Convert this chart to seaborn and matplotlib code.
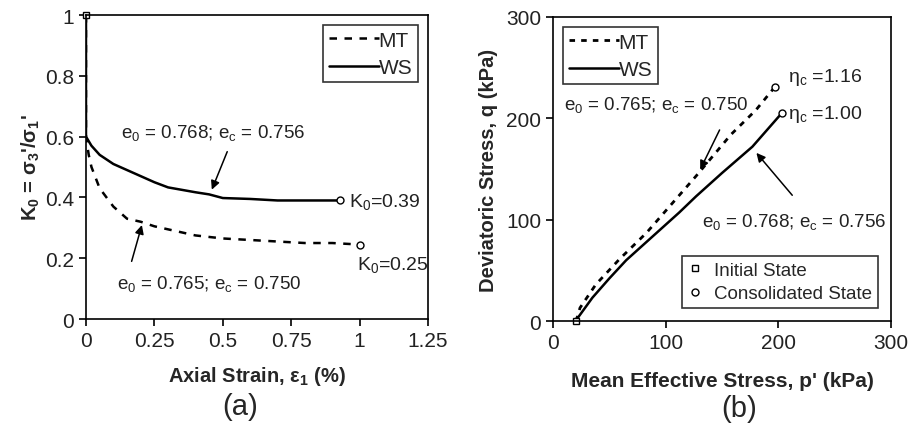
import matplotlib
matplotlib.use("Agg")
import matplotlib.pyplot as plt
import seaborn as sns

# panel (a): K0 vs axial strain
ws_strain = [0.0, 0.0, 0.0, 0.01, 0.02, 0.05, 0.1, 0.15, 0.2, 0.25, 0.3, 0.35, 0.4, 0.45, 0.5, 0.6, 0.7, 0.8, 0.93]
ws_k0 = [1.0, 0.8, 0.60, 0.585, 0.57, 0.54, 0.51, 0.49, 0.47, 0.45, 0.433, 0.425, 0.417, 0.41, 0.398, 0.395, 0.39, 0.39, 0.39]
mt_strain = [0.0, 0.0, 0.0, 0.01, 0.02, 0.05, 0.1, 0.15, 0.2, 0.25, 0.3, 0.4, 0.5, 0.6, 0.7, 0.8, 0.9, 1.0]
mt_k0 = [1.0, 0.8, 0.60, 0.54, 0.50, 0.43, 0.37, 0.33, 0.32, 0.305, 0.295, 0.275, 0.265, 0.26, 0.255, 0.25, 0.25, 0.245]

# panel (b): stress paths
ws_p = [20, 35, 50, 65, 80, 95, 112, 127, 150, 177, 203]
ws_q = [0, 23, 42, 60, 75, 90, 107, 123, 146, 172, 205]
mt_p = [20, 22, 24, 38, 59, 83, 105, 127, 158, 180, 197]
mt_q = [0, 5, 13, 36, 61, 87, 115, 143, 184, 208, 231]

BLACK = "#000000"
TXT = "#222222"
DASH_A = (0, (3, 3))
DASH_B = (0, (2, 2.2))
ARROW = dict(arrowstyle="-|>", color=BLACK, lw=1.1, mutation_scale=13)


def _style(ax):
    for s in ax.spines.values():
        s.set_color(BLACK)
        s.set_linewidth(1.2)
    ax.tick_params(direction="out", length=5, width=1.2, labelsize=15, color=BLACK, labelcolor=TXT)


def _end_marker(ax, x, y, marker):
    return ax.plot(x, y, marker=marker, ms=5, mfc="white", mec=BLACK, mew=1, ls="none", clip_on=False)[0]


sns.set_theme(style="ticks")
plt.rcParams["font.family"] = ["Liberation Sans", "DejaVu Sans"]
plt.rcParams["mathtext.fontset"] = "custom"
plt.rcParams["mathtext.rm"] = "Liberation Sans"
plt.rcParams["mathtext.it"] = "Liberation Sans"

fig = plt.figure(figsize=(9.08, 4.39), dpi=100)
ax1 = fig.add_axes([0.0947, 0.271, 0.3767, 0.6925])
ax2 = fig.add_axes([0.609, 0.2665, 0.3722, 0.6925])

# ---- (a)
sns.lineplot(x=mt_strain, y=mt_k0, ax=ax1, sort=False, estimator=None, color=BLACK,
             linewidth=1.8, linestyle=DASH_A, label="MT")
sns.lineplot(x=ws_strain, y=ws_k0, ax=ax1, sort=False, estimator=None, color=BLACK,
             linewidth=1.8, label="WS")
_end_marker(ax1, ws_strain[0], ws_k0[0], "s")
_end_marker(ax1, ws_strain[-1], ws_k0[-1], "o")
_end_marker(ax1, mt_strain[-1], mt_k0[-1], "o")
ax1.set_xlim(0, 1.25)
ax1.set_ylim(0, 1)
ax1.set_xticks([0, 0.25, 0.5, 0.75, 1, 1.25])
ax1.set_xticklabels(["0", "0.25", "0.5", "0.75", "1", "1.25"])
ax1.set_yticks([0, 0.2, 0.4, 0.6, 0.8, 1])
ax1.set_yticklabels(["0", "0.2", "0.4", "0.6", "0.8", "1"])
ax1.set_xlabel(r"Axial Strain, ε$_\mathregular{1}$ (%)", fontsize=14.5, fontweight="bold", labelpad=10)
ax1.set_ylabel(r"K$_\mathregular{0}$ = σ$_\mathregular{3}$'/σ$_\mathregular{1}$'", fontsize=14.5,
               fontweight="bold", labelpad=2)
_style(ax1)
leg = ax1.legend(loc="upper right", fontsize=15, frameon=True, fancybox=False, edgecolor=BLACK,
                 handlelength=2.4, handletextpad=0.0, borderpad=0.25, labelspacing=0.4,
                 borderaxespad=0.5)
leg.get_frame().set_linewidth(1.2)

ax1.text(0.465, 0.614, r"e$_\mathregular{0}$ = 0.768; e$_\mathregular{c}$ = 0.756",
         ha="center", va="center", fontsize=13.5, color=TXT)
ax1.annotate("", xy=(0.456, 0.417), xytext=(0.52, 0.559), arrowprops=ARROW)
ax1.text(0.45, 0.12, r"e$_\mathregular{0}$ = 0.765; e$_\mathregular{c}$ = 0.750",
         ha="center", va="center", fontsize=13.5, color=TXT)
ax1.annotate("", xy=(0.207, 0.318), xytext=(0.164, 0.181), arrowprops=ARROW)
ax1.text(0.96, 0.389, r"K$_\mathregular{0}$=0.39", fontsize=14, va="center", ha="left", color=TXT)
ax1.text(0.99, 0.18, r"K$_\mathregular{0}$=0.25", fontsize=14, va="center", ha="left", color=TXT)
fig.text(0.264, 0.072, "(a)", fontsize=21, ha="center", va="center")

# ---- (b)
sns.lineplot(x=mt_p, y=mt_q, ax=ax2, sort=False, estimator=None, color=BLACK,
             linewidth=2.0, linestyle=DASH_B, label="MT")
sns.lineplot(x=ws_p, y=ws_q, ax=ax2, sort=False, estimator=None, color=BLACK,
             linewidth=1.8, label="WS")
l_mt, l_ws = ax2.lines[0], ax2.lines[1]
m_init = _end_marker(ax2, ws_p[0], ws_q[0], "s")
m_cons = _end_marker(ax2, ws_p[-1], ws_q[-1], "o")
_end_marker(ax2, mt_p[-1], mt_q[-1], "o")
ax2.set_xlim(0, 300)
ax2.set_ylim(0, 300)
ax2.set_xticks([0, 100, 200, 300])
ax2.set_yticks([0, 100, 200, 300])
ax2.set_xlabel("Mean Effective Stress, p' (kPa)", fontsize=15, fontweight="bold", labelpad=14)
ax2.set_ylabel("Deviatoric Stress, q (kPa)", fontsize=14.5, fontweight="bold", labelpad=6)
_style(ax2)
leg1 = ax2.legend([l_mt, l_ws], ["MT", "WS"], loc="upper left", fontsize=15, frameon=True,
                  fancybox=False, edgecolor=BLACK, handlelength=2.4, handletextpad=0.0,
                  borderpad=0.25, labelspacing=0.4, borderaxespad=0.5)
leg1.get_frame().set_linewidth(1.2)
ax2.add_artist(leg1)
leg2 = ax2.legend([m_init, m_cons], ["Initial State", "Consolidated State"], loc="lower right",
                  fontsize=13.5, frameon=True, fancybox=False, edgecolor=BLACK, handlelength=0.8,
                  handletextpad=0.6, borderpad=0.3, labelspacing=0.35, borderaxespad=0.7)
leg2.get_frame().set_linewidth(1.2)

ax2.text(92, 214, r"e$_\mathregular{0}$ = 0.765; e$_\mathregular{c}$ = 0.750", fontsize=13.5,
         ha="center", va="center", color=TXT)
ax2.annotate("", xy=(129.6, 147), xytext=(149, 191), arrowprops=ARROW)
ax2.text(214, 99, r"e$_\mathregular{0}$ = 0.768; e$_\mathregular{c}$ = 0.756", fontsize=13.5,
         ha="center", va="center", color=TXT)
ax2.annotate("", xy=(179, 168), xytext=(214, 122), arrowprops=ARROW)
ax2.text(209, 241, r"η$_\mathregular{c}$ =1.16", fontsize=14, ha="left", va="center", color=TXT)
ax2.text(209, 205, r"η$_\mathregular{c}$ =1.00", fontsize=14, ha="left", va="center", color=TXT)
fig.text(0.814, 0.068, "(b)", fontsize=21, ha="center", va="center")

fig.savefig("out.png", dpi=100)
